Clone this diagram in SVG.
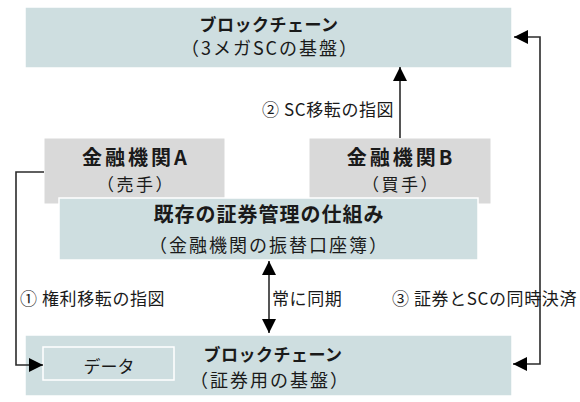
<svg xmlns="http://www.w3.org/2000/svg" width="580" height="402" viewBox="0 0 580 402">
  <style>
    text { font-family: "Noto Sans CJK JP", "Noto Sans", sans-serif; fill: #1a1a1a; }
    .blue { fill: #cedee0; stroke: #ffffff; stroke-width: 1.5; }
    .gray { fill: #d9d9d9; stroke: #ffffff; stroke-width: 1; }
    .ttl { font-size: 17px; font-weight: bold; text-anchor: middle; letter-spacing: 0.5px; }
    .big { font-size: 20px; font-weight: bold; text-anchor: middle; letter-spacing: 3px; }
    .mid { font-size: 20px; font-weight: bold; text-anchor: middle; letter-spacing: 1px; }
    .sub { font-size: 18px; text-anchor: middle; letter-spacing: 2px; }
    .subs { font-size: 17px; text-anchor: middle; letter-spacing: 2.5px; }
    .lbl { font-size: 17px; letter-spacing: 0.6px; }
    .line { fill: none; stroke: #2b2b2b; stroke-width: 1.6; }
  </style>
  <defs>
    <marker id="ah" markerUnits="userSpaceOnUse" markerWidth="14" markerHeight="14" refX="14" refY="7" orient="auto-start-reverse">
      <path d="M0,0 L14,7 L0,14 Z" fill="#000000"/>
    </marker>
  </defs>

  <g id="node-blockchain-sc">
    <rect class="blue" x="25" y="7" width="487" height="61"/>
    <text class="ttl" x="269" y="31">ブロックチェーン</text>
    <text class="sub" x="270" y="55">（3メガSCの基盤）</text>
  </g>

  <g id="node-bank-a">
    <rect class="gray" x="44" y="138" width="181" height="66"/>
    <text class="big" x="136" y="165">金融機関A</text>
    <text class="subs" x="136" y="191">（売手）</text>
  </g>

  <g id="node-bank-b">
    <rect class="gray" x="309" y="138" width="182" height="66"/>
    <text class="big" x="401" y="165">金融機関B</text>
    <text class="subs" x="401" y="191">（買手）</text>
  </g>

  <g id="node-existing">
    <rect class="blue" x="59" y="198" width="419" height="62"/>
    <text class="mid" x="269" y="222">既存の証券管理の仕組み</text>
    <text class="sub" x="269" y="252">（金融機関の振替口座簿）</text>
  </g>

  <g id="node-blockchain-securities">
    <rect class="blue" x="25" y="335" width="487" height="61"/>
    <text class="ttl" x="273" y="361">ブロックチェーン</text>
    <text class="sub" x="270" y="387">（証券用の基盤）</text>
  </g>

  <g id="node-data">
    <rect class="blue" x="43" y="347" width="131" height="33"/>
    <text x="109" y="373" style="font-size:17px; text-anchor:middle;">データ</text>
  </g>

  <g id="connectors">
    <path class="line" d="M44,172 H16 V365 H43" marker-end="url(#ah)"/>
    <path class="line" d="M400,138 V67" marker-end="url(#ah)"/>
    <path class="line" d="M269,261 V333" marker-start="url(#ah)" marker-end="url(#ah)"/>
    <path class="line" d="M514,37 H540 V364 H513" marker-start="url(#ah)" marker-end="url(#ah)"/>
    <text class="lbl" x="20" y="305">① 権利移転の指図</text>
    <text class="lbl" x="262" y="116">② SC移転の指図</text>
    <text class="lbl" x="272" y="305">常に同期</text>
    <text class="lbl" x="392" y="305">③ 証券とSCの同時決済</text>
  </g>
</svg>
